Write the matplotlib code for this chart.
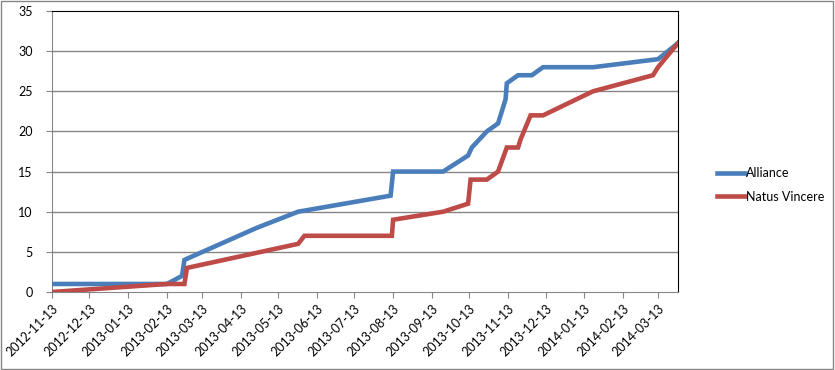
import matplotlib
matplotlib.use("Agg")
import matplotlib.pyplot as plt
import pandas as pd
from matplotlib.patches import Rectangle

# Daten
allianceDates = ["2012-11-13", "2013-02-13", "2013-02-25", "2013-02-27", "2013-04-26",
                 "2013-05-29", "2013-08-11", "2013-08-13", "2013-09-22", "2013-10-12",
                 "2013-10-15", "2013-10-27", "2013-11-05", "2013-11-11", "2013-11-12",
                 "2013-11-21", "2013-12-02", "2013-12-11", "2014-01-20", "2014-03-13",
                 "2014-03-29"]
allianceValues = [1, 1, 2, 4, 8, 10, 12, 15, 15, 17, 18, 20, 21, 24, 26, 27, 27, 28, 28, 29, 31]

navDates = ["2012-11-13", "2013-02-13", "2013-02-27", "2013-03-01", "2013-05-29",
            "2013-06-03", "2013-08-12", "2013-08-13", "2013-09-22", "2013-10-12",
            "2013-10-14", "2013-10-27", "2013-11-05", "2013-11-12", "2013-11-21",
            "2013-11-23", "2013-12-01", "2013-12-11", "2014-01-20", "2014-03-09",
            "2014-03-13", "2014-03-29"]
navValues = [0, 1, 1, 3, 6, 7, 7, 9, 10, 11, 14, 14, 15, 18, 18, 19, 22, 22, 25, 27, 28, 31]

tickLabels = ["2012-11-13", "2012-12-13", "2013-01-13", "2013-02-13", "2013-03-13",
              "2013-04-13", "2013-05-13", "2013-06-13", "2013-07-13", "2013-08-13",
              "2013-09-13", "2013-10-13", "2013-11-13", "2013-12-13", "2014-01-13",
              "2014-02-13", "2014-03-13"]
yTicks = [0, 5, 10, 15, 20, 25, 30, 35]

plt.rcParams['font.family'] = ['Lato', 'DejaVu Sans']

fig = plt.figure(figsize=(8.35, 3.7), dpi=100)
ax = fig.add_axes([52 / 835, 78 / 370, 626 / 835, 281 / 370])

gridColor = "#868686"
for y in yTicks[1:-1]:
    ax.axhline(y, color=gridColor, lw=1, zorder=1)

ax.plot(pd.to_datetime(allianceDates), allianceValues, color="#4A7EBB", lw=3.3,
        label="Alliance", zorder=3, solid_joinstyle="miter")
ax.plot(pd.to_datetime(navDates), navValues, color="#BE4B48", lw=3.3,
        label="Natus Vincere", zorder=3, solid_joinstyle="miter")

ax.set_xlim(pd.Timestamp(allianceDates[0]), pd.Timestamp(allianceDates[-1]))
ax.set_ylim(0, 35)
ax.set_yticks(yTicks)
ax.set_xticks(pd.to_datetime(tickLabels))
ax.set_xticklabels(tickLabels, rotation=45, ha="right", rotation_mode="anchor")
ax.tick_params(axis="both", labelsize=9, color=gridColor, length=4, direction="out")
ax.tick_params(axis="y", pad=10)

ax.spines["left"].set_color(gridColor)
ax.spines["bottom"].set_color(gridColor)
ax.spines["top"].set_color("black")
ax.spines["right"].set_color("black")

fig.legend(loc="center left", bbox_to_anchor=(706 / 835, 1 - 185 / 370), frameon=False,
           fontsize=9, handlelength=2.2, handletextpad=0.1, labelspacing=0.9)

# grauer Rahmen um das ganze Diagramm
fig.patches.append(Rectangle((0.001, 0.002), 0.997, 0.995, transform=fig.transFigure,
                             fill=False, edgecolor=gridColor, lw=1))

fig.savefig("out.png", dpi=100)
